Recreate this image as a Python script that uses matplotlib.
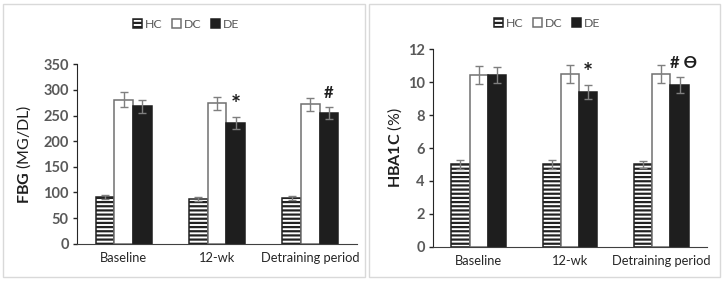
import numpy as np
import matplotlib.pyplot as plt
from matplotlib.patches import Rectangle

plt.rcParams['font.family'] = 'Lato'
plt.rcParams['mathtext.fontset'] = 'custom'
plt.rcParams['mathtext.bf'] = 'Lato:bold'
plt.rcParams['mathtext.rm'] = 'Lato'
plt.rcParams['hatch.linewidth'] = 1.6

periods = ['Baseline', '12-wk', 'Detraining period']
groups = ['HC', 'DC', 'DE']

fbg_mean = {'HC': [91, 88, 89], 'DC': [281, 274, 272], 'DE': [268, 235, 255]}
fbg_err = {'HC': [4, 4, 4], 'DC': [14, 13, 13], 'DE': [13, 12, 12]}
fbg_marks = ['', '*', '#']

hba_mean = {'HC': [5.0, 5.0, 5.0], 'DC': [10.45, 10.5, 10.5], 'DE': [10.45, 9.4, 9.85]}
hba_err = {'HC': [0.25, 0.25, 0.22], 'DC': [0.55, 0.52, 0.52], 'DE': [0.5, 0.45, 0.48]}
hba_marks = ['', '*', '# ϴ']

styles = {
    'HC': dict(facecolor='white', edgecolor='#222222', hatch='----'),
    'DC': dict(facecolor='white', edgecolor='#707070', hatch=None),
    'DE': dict(facecolor='#1e1e1e', edgecolor='#1e1e1e', hatch=None),
}

fig = plt.figure(figsize=(7.25, 2.81), dpi=100)

# panel frames
fig.patches.append(Rectangle((3 / 725, 4 / 281), 362 / 725, 273 / 281, transform=fig.transFigure,
                             fill=False, edgecolor='#d9d9d9', linewidth=1))
fig.patches.append(Rectangle((369 / 725, 4 / 281), 351 / 725, 273 / 281, transform=fig.transFigure,
                             fill=False, edgecolor='#d9d9d9', linewidth=1))

ax1 = fig.add_axes([77 / 725, 37.3 / 281, 280 / 725, 179.4 / 281])
ax2 = fig.add_axes([433 / 725, 34.3 / 281, 274 / 725, 197.4 / 281])

x = np.arange(len(periods))
w = 0.2


def draw(ax, means, errs, marks, ylim, step, ylabel, leg_xy):
    for i, g in enumerate(groups):
        ax.bar(x + (i - 1) * w, means[g], w, label=g, linewidth=1.1, **styles[g])
        ax.errorbar(x + (i - 1) * w, means[g], yerr=errs[g], fmt='none',
                    ecolor='#7f7f7f', elinewidth=1, capsize=3, capthick=1)
    top = np.array(means['DE']) + np.array(errs['DE'])
    for i, m in enumerate(marks):
        if m:
            star = m == '*'
            ax.text(x[i] + w + (0.04 if len(m) > 1 else 0), top[i] + ylim * (0.0 if star else 0.03), m,
                    ha='center', va='bottom', fontsize=17 if star else 12,
                    fontweight='bold', color='#1e1e1e', family=['Lato', 'DejaVu Sans'])
    ax.set_xlim(-0.5, 2.5)
    ax.set_ylim(0, ylim)
    ax.set_yticks(np.arange(0, ylim + step / 2, step))
    ax.set_xticks(x)
    ax.set_xticklabels(periods, fontsize=9.3, color='#262626')
    ax.tick_params(axis='x', length=0, pad=6)
    ax.tick_params(axis='y', length=3, width=1, color='#262626', labelsize=10.5,
                   labelcolor='#595959', pad=3)
    for lab in ax.get_yticklabels():
        lab.set_fontweight('bold')
    for s in ['top', 'right']:
        ax.spines[s].set_visible(False)
    ax.spines['left'].set_color('#262626')
    ax.spines['bottom'].set_color('#404040')
    ax.set_ylabel(ylabel, fontsize=11.5, color='#1e1e1e')
    leg = ax.legend(loc='center', bbox_to_anchor=leg_xy, bbox_transform=fig.transFigure,
                    ncol=3, frameon=False, fontsize=8.8, handlelength=0.7, handleheight=0.7,
                    handletextpad=0.25, columnspacing=0.8)
    for t in leg.get_texts():
        t.set_color('#595959')


draw(ax1, fbg_mean, fbg_err, fbg_marks, 350, 50, r'$\mathbf{FBG}$ (MG/DL)', (186 / 725, 1 - 24 / 281))
draw(ax2, hba_mean, hba_err, hba_marks, 12, 2, r'$\mathbf{HBA1C}$ (%)', (547 / 725, 1 - 23 / 281))
ax1.yaxis.set_label_coords(-0.157, 0.5)
ax2.yaxis.set_label_coords(-0.106, 0.5)

fig.savefig('out.png', dpi=100)
